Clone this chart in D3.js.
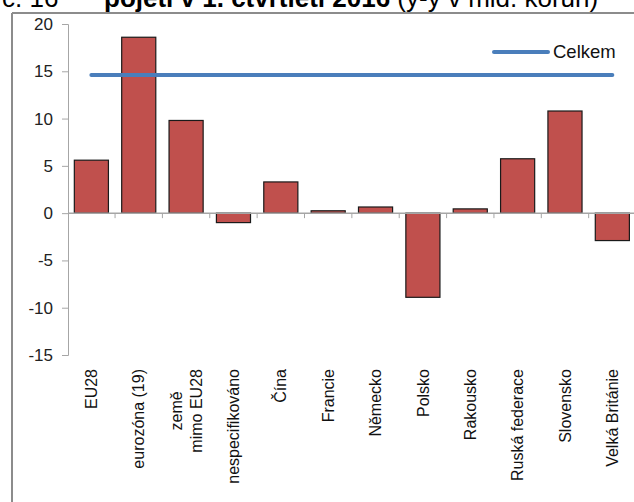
<!DOCTYPE html>
<html><head><meta charset="utf-8">
<script src="https://cdn.jsdelivr.net/npm/d3@7/dist/d3.min.js"></script>
<style>
html,body{margin:0;padding:0;background:#fff;}
svg{display:block;font-family:Arial,"Liberation Sans",sans-serif;}
</style></head>
<body>
<svg id="c" width="634" height="502"></svg>
<script>
const categories = ["EU28","eurozóna (19)","země\nmimo EU28","nespecifikováno","Čína","Francie","Německo","Polsko","Rakousko","Ruská federace","Slovensko","Velká Británie"];
const values = [5.6, 18.6, 9.8, -1.0, 3.3, 0.25, 0.65, -8.9, 0.45, 5.75, 10.8, -2.9];
const totalValue = 14.6;
const totalLabel = "Celkem";
const yTicks = [-15,-10,-5,0,5,10,15,20];
const titleParts = [["č. 16", "normal"], ["pojetí v 1. čtvrtletí 2016", "bold"], [" (y-y v mld. korun)", "normal"]];

const svg = d3.select("#c");

// chart frame
svg.append("line").attr("x1",12).attr("x2",12).attr("y1",13).attr("y2",502).attr("stroke","#8c8c8c").attr("stroke-width",2);
svg.append("line").attr("x1",12).attr("x2",634).attr("y1",13).attr("y2",13).attr("stroke","#8c8c8c").attr("stroke-width",2);

// title (cut off at top as in reference)
const title = svg.append("text").attr("y",7).attr("font-size",26).attr("fill","#000");
title.append("tspan").attr("x",2).attr("font-weight",titleParts[0][1]).text(titleParts[0][0]);
title.append("tspan").attr("x",104).attr("font-weight",titleParts[1][1]).text(titleParts[1][0]);
title.append("tspan").attr("font-weight",titleParts[2][1]).text(titleParts[2][0]);

const x = d3.scaleBand().domain(categories).range([67.7, 67.7 + 47.36*12]).paddingInner(0.28).paddingOuter(0.14);
const y = d3.scaleLinear().domain([-15,20]).range([355,24]);

// y axis
const ya = svg.append("g").attr("transform","translate(68,0)")
  .call(d3.axisLeft(y).tickValues(yTicks).tickSize(6).tickPadding(9).tickFormat(d => String(d)));
ya.select(".domain").attr("stroke","#a6a6a6").attr("d","M-6,24.5H0.5V355.5H-6");
ya.selectAll(".tick line").attr("stroke","#a6a6a6");
ya.selectAll(".tick text").attr("font-size",17).attr("fill","#222").attr("font-family","Arial, 'Liberation Sans', sans-serif");

// bars
svg.append("g").selectAll("rect").data(values).join("rect")
  .attr("x",(d,i)=>x(categories[i]))
  .attr("width",x.bandwidth())
  .attr("y",d=>y(Math.max(0,d)))
  .attr("height",d=>Math.abs(y(d)-y(0)))
  .attr("fill","#c0504d").attr("stroke","#1a1a1a").attr("stroke-width",1.2);

// x axis (at zero)
const step = x.step();
svg.append("line").attr("x1",68).attr("x2",634).attr("y1",y(0)).attr("y2",y(0)).attr("stroke","#a6a6a6").attr("stroke-width",1.5);
svg.append("g").selectAll("line").data(categories.slice(1).concat(["_end"])).join("line")
  .attr("x1",(d,i)=>67.7+step*(i+1)).attr("x2",(d,i)=>67.7+step*(i+1))
  .attr("y1",y(0)).attr("y2",y(0)+5).attr("stroke","#a6a6a6");

// category labels
const lab = svg.append("g").attr("font-size",16).attr("fill","#111");
categories.forEach((c)=>{
  const cx = x(c)+x.bandwidth()/2;
  const lines = c.split("\n");
  const g = lab.append("g").attr("transform",`translate(${cx},369) rotate(-90)`);
  if(lines.length===1){
    g.append("text").attr("text-anchor","end").attr("dy","0.35em").text(c);
  } else {
    const t = g.append("text").attr("text-anchor","middle");
    lines.forEach((l,j)=>t.append("tspan").attr("x",0).attr("y",(j-(lines.length-1)/2)*20).attr("dy","0.35em").text(l));
    const w = t.node().getBBox().width;
    t.selectAll("tspan").attr("x",-w/2);
  }
});

// total line
svg.append("line").attr("x1",x(categories[0])+x.bandwidth()/2).attr("x2",x(categories[categories.length-1])+x.bandwidth()/2)
  .attr("y1",y(totalValue)).attr("y2",y(totalValue))
  .attr("stroke","#4a7ebb").attr("stroke-width",4).attr("stroke-linecap","round");

// legend
svg.append("line").attr("x1",494).attr("x2",548).attr("y1",52).attr("y2",52)
  .attr("stroke","#4a7ebb").attr("stroke-width",4).attr("stroke-linecap","round");
svg.append("text").attr("x",553).attr("y",52).attr("dy","0.35em").attr("font-size",18.5).attr("fill","#111").text(totalLabel);
</script>
</body></html>
